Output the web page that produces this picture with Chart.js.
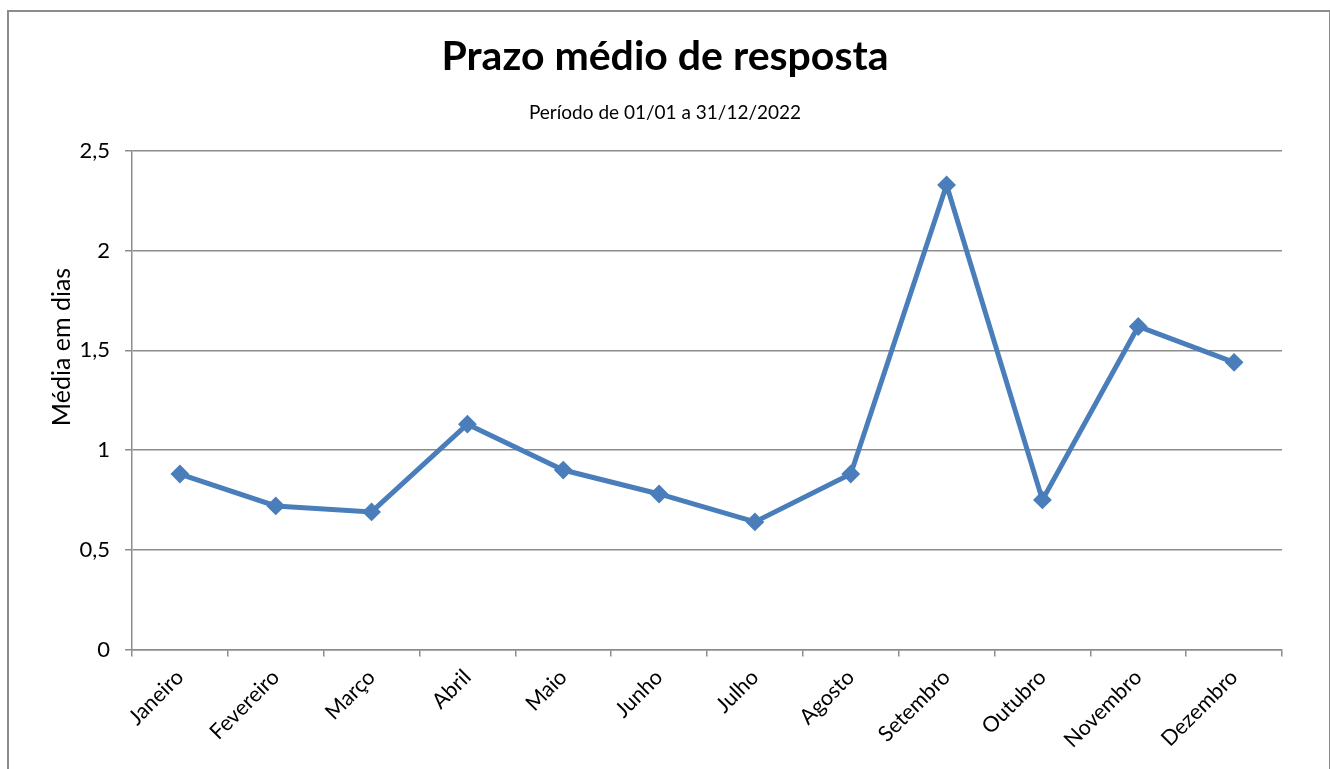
<!DOCTYPE html>
<html>
<head>
<meta charset="utf-8">
<script src="https://cdn.jsdelivr.net/npm/chart.js@4"></script>
<style>
  html, body { margin: 0; padding: 0; background: #fff; overflow: hidden; }
  #frame { position: absolute; left: 7px; top: 10px; width: 1320px; height: 800px; border: 2px solid #8c8c8c; }
  #myChart { position: absolute; left: 0; top: 0; }
</style>
</head>
<body>
<div id="frame"></div>
<canvas id="myChart" width="1330" height="769"></canvas>
<script>
const months = ['Janeiro', 'Fevereiro', 'Março', 'Abril', 'Maio', 'Junho',
                'Julho', 'Agosto', 'Setembro', 'Outubro', 'Novembro', 'Dezembro']
const prazoMedio = [0.88, 0.72, 0.69, 1.13, 0.90, 0.78, 0.64, 0.88, 2.33, 0.75, 1.62, 1.44]
const yTicks = [0, 0.5, 1, 1.5, 2, 2.5]

const titleText = 'Prazo médio de resposta'
const subtitleText = 'Período de 01/01 a 31/12/2022'
const yTitleText = 'Média em dias'

const fontFamily = 'Lato, "Open Sans", sans-serif'
const gridColor = '#8c8c8c'

// y axis title, Excel puts it a bit above the middle of the plot
const yTitlePlugin = {
    id: 'yTitle',
    afterDraw(chart) {
        const c = chart.ctx
        c.save()
        c.translate(62, 347)
        c.rotate(-Math.PI / 2)
        c.font = '25px ' + fontFamily
        c.fillStyle = '#000'
        c.textAlign = 'center'
        c.textBaseline = 'middle'
        c.fillText(yTitleText, 0, 0)
        c.restore()
    }
}

const ctx = document.getElementById('myChart').getContext('2d')

const myChart = new Chart(ctx, {
    type: 'line',
    data: {
        labels: months,
        datasets: [{
            label: yTitleText,
            data: prazoMedio,
            borderColor: '#4a7ebb',
            backgroundColor: '#4a7ebb',
            borderWidth: 5,
            pointStyle: 'rectRot',
            pointRadius: 8,
            pointBorderWidth: 2,
            pointHoverRadius: 8,
            tension: 0
        }]
    },
    options: {
        responsive: false,
        animation: false,
        devicePixelRatio: 1,
        layout: { padding: { top: 10, right: 0, left: 0, bottom: 0 } },
        plugins: {
            legend: { display: false },
            tooltip: { enabled: false },
            title: {
                display: true,
                text: titleText,
                color: '#000',
                font: { family: fontFamily, size: 41, weight: 'bold' },
                padding: { top: 22, bottom: 0 }
            },
            subtitle: {
                display: true,
                text: subtitleText,
                color: '#000',
                font: { family: fontFamily, size: 19 },
                padding: { top: 20.4, bottom: 26.6 }
            }
        },
        scales: {
            x: {
                offset: true,
                grid: {
                    offset: true,
                    drawOnChartArea: false,
                    drawTicks: true,
                    tickLength: 7,
                    color: gridColor,
                    lineWidth: 1.5
                },
                border: { color: gridColor, width: 1.5 },
                ticks: {
                    color: '#000',
                    font: { family: fontFamily, size: 21.5 },
                    minRotation: 45,
                    maxRotation: 45,
                    padding: 8,
                    autoSkip: false
                },
                afterFit(scale) { scale.height = 119.5 }
            },
            y: {
                min: 0,
                max: 2.5,
                afterBuildTicks(scale) {
                    scale.ticks = yTicks.map(v => ({ value: v }))
                },
                grid: {
                    color: gridColor,
                    lineWidth: 1.5,
                    drawTicks: true,
                    tickLength: 7
                },
                border: { color: gridColor, width: 1.5 },
                ticks: {
                    color: '#000',
                    font: { family: fontFamily, size: 22 },
                    padding: 15,
                    callback: (v) => String(v).replace('.', ',')
                },
                afterFit(scale) { scale.width = 132 }
            },
            // empty box on the right so the plot stops where Excel's does
            // while the titles stay centred on the whole canvas
            yRight: {
                position: 'right',
                display: true,
                grid: { display: false },
                border: { display: false },
                ticks: { display: false },
                afterFit(scale) { scale.width = 48 }
            }
        }
    },
    plugins: [yTitlePlugin]
})
</script>
</body>
</html>
